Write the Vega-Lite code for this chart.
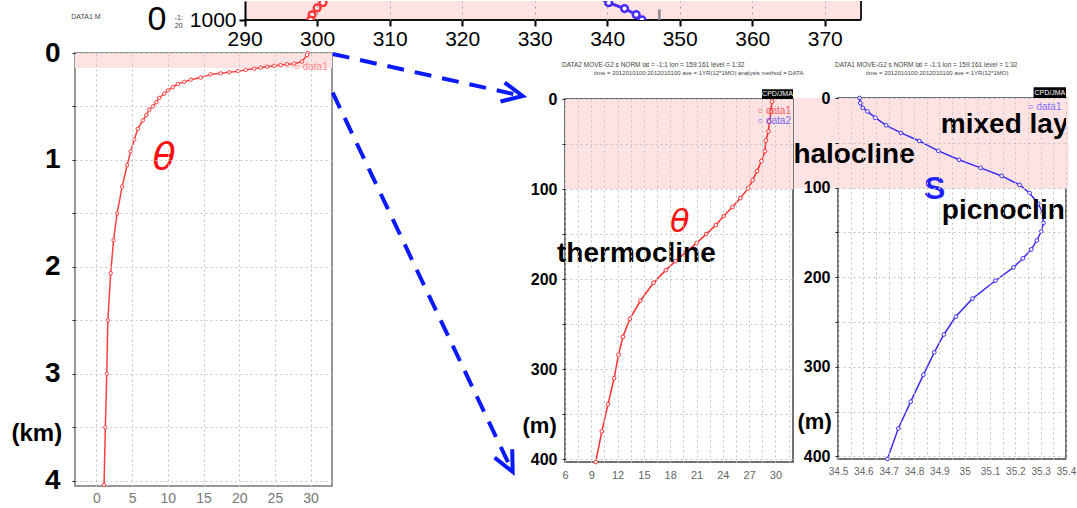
{
  "$schema": "https://vega.github.io/schema/vega-lite/v6.json",
  "padding": {"left": 10, "top": 0, "right": 0, "bottom": 0},
  "background": "white",
  "config": {"view": {"stroke": "#555"}},
  "datasets": {
    "strip_red": [
      {"t": 301.8, "p": 968}, {"t": 300.8, "p": 977.2}, {"t": 300.0, "p": 984.1}, {"t": 299.3, "p": 993.2}, {"t": 299.1, "p": 1000}
    ],
    "strip_blue": [
      {"t": 338.3, "p": 968}, {"t": 340.2, "p": 977.2}, {"t": 342.4, "p": 984.9}, {"t": 344.0, "p": 993}, {"t": 344.8, "p": 999.7}
    ],
    "theta_km": [
      {"T": 29.6, "d": 0.0}, {"T": 29.5, "d": 0.02}, {"T": 28.8, "d": 0.08}, {"T": 27.7, "d": 0.1}, {"T": 26.7, "d": 0.105},
      {"T": 25.8, "d": 0.112}, {"T": 24.9, "d": 0.12}, {"T": 23.9, "d": 0.128}, {"T": 23.0, "d": 0.137}, {"T": 22.1, "d": 0.146},
      {"T": 20.9, "d": 0.158}, {"T": 19.8, "d": 0.17}, {"T": 18.6, "d": 0.18}, {"T": 17.4, "d": 0.19}, {"T": 16.0, "d": 0.2},
      {"T": 14.6, "d": 0.23}, {"T": 13.2, "d": 0.25}, {"T": 12.3, "d": 0.27}, {"T": 11.4, "d": 0.29}, {"T": 10.7, "d": 0.32},
      {"T": 10.0, "d": 0.35}, {"T": 9.5, "d": 0.38}, {"T": 8.8, "d": 0.42}, {"T": 8.4, "d": 0.46}, {"T": 7.9, "d": 0.5},
      {"T": 7.4, "d": 0.53}, {"T": 7.0, "d": 0.58}, {"T": 6.5, "d": 0.63}, {"T": 5.8, "d": 0.71}, {"T": 5.3, "d": 0.81},
      {"T": 4.8, "d": 0.92}, {"T": 4.3, "d": 1.05}, {"T": 3.6, "d": 1.25}, {"T": 2.9, "d": 1.5}, {"T": 2.4, "d": 1.75},
      {"T": 2.0, "d": 2.06}, {"T": 1.6, "d": 2.5}, {"T": 1.45, "d": 3.0}, {"T": 1.25, "d": 3.5}, {"T": 1.07, "d": 4.04}
    ],
    "theta_m": [
      {"T": 29.6, "d": 0}, {"T": 29.6, "d": 3}, {"T": 29.5, "d": 14}, {"T": 29.3, "d": 25}, {"T": 29.2, "d": 36},
      {"T": 28.9, "d": 46}, {"T": 28.8, "d": 58}, {"T": 28.4, "d": 69}, {"T": 27.9, "d": 80}, {"T": 27.4, "d": 90},
      {"T": 26.9, "d": 99}, {"T": 26.0, "d": 110}, {"T": 25.1, "d": 120}, {"T": 24.1, "d": 130}, {"T": 23.2, "d": 140},
      {"T": 22.1, "d": 150}, {"T": 21.0, "d": 160}, {"T": 19.8, "d": 170}, {"T": 18.6, "d": 180}, {"T": 17.5, "d": 190},
      {"T": 16.1, "d": 204}, {"T": 14.6, "d": 224}, {"T": 13.4, "d": 244}, {"T": 12.6, "d": 264}, {"T": 12.1, "d": 284},
      {"T": 11.6, "d": 310}, {"T": 10.9, "d": 339}, {"T": 10.2, "d": 369}, {"T": 9.5, "d": 403}
    ],
    "sal_m": [
      {"S": 34.585, "d": 0}, {"S": 34.588, "d": 5.6}, {"S": 34.598, "d": 11}, {"S": 34.616, "d": 15}, {"S": 34.647, "d": 22},
      {"S": 34.69, "d": 30.5}, {"S": 34.749, "d": 39}, {"S": 34.821, "d": 48}, {"S": 34.896, "d": 59}, {"S": 34.978, "d": 69},
      {"S": 35.063, "d": 78}, {"S": 35.146, "d": 87}, {"S": 35.217, "d": 97}, {"S": 35.256, "d": 106}, {"S": 35.29, "d": 118},
      {"S": 35.308, "d": 128}, {"S": 35.311, "d": 139.5}, {"S": 35.302, "d": 149}, {"S": 35.285, "d": 159}, {"S": 35.263, "d": 169},
      {"S": 35.23, "d": 179}, {"S": 35.193, "d": 189}, {"S": 35.121, "d": 204}, {"S": 35.031, "d": 224}, {"S": 34.965, "d": 244},
      {"S": 34.918, "d": 264}, {"S": 34.88, "d": 284}, {"S": 34.837, "d": 309}, {"S": 34.787, "d": 339}, {"S": 34.738, "d": 369},
      {"S": 34.695, "d": 403}
    ]
  },
  "spacing": -11,
  "vconcat": [
    {
      "width": 786,
      "height": 19,
      "view": {"stroke": null},
      "layer": [
        {
          "data": {"values": [{}]},
          "mark": {"type": "rect", "color": "#ffe3e3"},
          "encoding": {
            "x": {"datum": 290, "type": "quantitative",
              "scale": {"domain": [266.61, 375], "nice": false, "zero": false},
              "axis": {"values": [290, 300, 310, 320, 330, 340, 350, 360, 370], "tickCount": 40, "title": null,
                "labelFont": "Liberation Sans, Arial, sans-serif",
                "labelFontSize": 21, "labelColor": "#000", "labelPadding": 2, "tickSize": 6, "tickWidth": 2,
                "tickColor": "#000", "domain": false, "grid": true, "gridDash": [2, 4],
                "gridColor": "#999", "labelFlush": false, "labelOverlap": false, "zindex": 1}},
            "x2": {"datum": 375},
            "y": {"datum": 975, "type": "quantitative",
              "scale": {"domain": [975, 1000], "reverse": true, "nice": false, "zero": false},
              "axis": {"values": [1000], "format": "d", "title": null, "offset": -170,
                "labelFont": "Liberation Sans, Arial, sans-serif",
                "labelFontSize": 21, "labelColor": "#000", "labelPadding": 3, "tickSize": 6, "tickWidth": 2,
                "tickColor": "#000", "domainColor": "#000", "domainWidth": 2, "grid": false, "zindex": 1}},
            "y2": {"datum": 1000}
          }
        },
        {"data": {"values": [{}]}, "mark": {"type": "rule", "color": "#111", "strokeWidth": 2},
          "encoding": {"x": {"datum": 290}, "x2": {"datum": 375}, "y": {"datum": 1000}}},
        {"data": {"values": [{}]}, "mark": {"type": "rule", "color": "#222", "strokeWidth": 2},
          "encoding": {"x": {"datum": 375}, "y": {"datum": 975}, "y2": {"datum": 1000}}},
        {"data": {"values": [{}]}, "mark": {"type": "rule", "color": "#888", "strokeWidth": 2.5},
          "encoding": {"x": {"datum": 347.2}, "y": {"datum": 986}, "y2": {"datum": 1000}}},
        {"data": {"name": "strip_red"},
          "mark": {"type": "line", "color": "#ff3b3b", "strokeWidth": 3, "clip": true},
          "encoding": {"x": {"field": "t", "type": "quantitative"}, "y": {"field": "p", "type": "quantitative"}, "order": {"field": "p"}}},
        {"data": {"name": "strip_red"},
          "mark": {"type": "point", "color": "#ff3b3b", "filled": false, "fill": "white", "size": 45, "strokeWidth": 2.5, "opacity": 1, "clip": true},
          "encoding": {"x": {"field": "t", "type": "quantitative"}, "y": {"field": "p", "type": "quantitative"}}},
        {"data": {"name": "strip_blue"},
          "mark": {"type": "line", "color": "#4a2cff", "strokeWidth": 3, "clip": true},
          "encoding": {"x": {"field": "t", "type": "quantitative"}, "y": {"field": "p", "type": "quantitative"}, "order": {"field": "p"}}},
        {"data": {"name": "strip_blue"},
          "mark": {"type": "point", "color": "#4a2cff", "filled": false, "fill": "white", "size": 45, "strokeWidth": 2.5, "opacity": 1, "clip": true},
          "encoding": {"x": {"field": "t", "type": "quantitative"}, "y": {"field": "p", "type": "quantitative"}}},
        {"data": {"values": [{}]},
          "mark": {"type": "text", "text": "DATA1   M", "fontSize": 7, "color": "#444", "align": "left", "baseline": "middle",
            "font": "Liberation Sans, Arial, sans-serif"},
          "encoding": {"x": {"datum": 266.1}, "y": {"datum": 995.4}}},
        {"data": {"values": [{}]},
          "mark": {"type": "text", "text": "0", "fontSize": 34, "color": "#000", "align": "center", "baseline": "middle",
            "font": "Liberation Sans, Arial, sans-serif"},
          "encoding": {"x": {"datum": 277.9}, "y": {"datum": 1000}}},
        {"data": {"values": [{}]},
          "mark": {"type": "text", "text": ["-1:", "20"], "fontSize": 7, "lineHeight": 8, "color": "#333", "align": "center", "baseline": "middle",
            "font": "Liberation Sans, Arial, sans-serif"},
          "encoding": {"x": {"datum": 280.9}, "y": {"datum": 997}}}
      ]
    },
    {
      "spacing": -11,
      "hconcat": [
        {
          "width": 257,
          "height": 433,
          "view": {"stroke": "#777", "strokeWidth": 1.5},
          "layer": [
            {
              "data": {"values": [{}]},
              "mark": {"type": "rect", "color": "#ffe3e3"},
              "encoding": {
                "x": {"datum": -3, "type": "quantitative",
                  "scale": {"domain": [-3, 33], "nice": false, "zero": false},
                  "axis": {"values": [0, 5, 10, 15, 20, 25, 30], "tickCount": 40, "title": null,
                    "labelFont": "Liberation Sans, Arial, sans-serif",
                    "labelFontSize": 14, "labelColor": "#777", "labelPadding": 5, "ticks": false, "domain": false,
                    "grid": true, "gridDash": [2, 3], "gridColor": "#c4c4c4", "labelFlush": false, "labelOverlap": false, "zindex": 1}},
                "x2": {"datum": 33},
                "y": {"datum": 0, "type": "quantitative",
                  "scale": {"domain": [0, 4.05], "reverse": true, "nice": false, "zero": false},
                  "axis": {"values": [0, 0.5, 1, 1.5, 2, 2.5, 3, 3.5, 4], "tickCount": 40,
                    "labelExpr": "datum.value % 1 === 0 ? format(datum.value, 'd') : ''",
                    "labelFont": "Liberation Sans, Arial, sans-serif", "labelFontSize": 28, "labelFontWeight": "bold",
                    "labelColor": "#000", "labelPadding": 12, "tickSize": 3, "tickColor": "#222", "domain": false,
                    "grid": true, "gridDash": [2, 3], "gridColor": "#c4c4c4", "labelOverlap": false, "zindex": 1,
                    "title": "(km)", "titleFont": "Liberation Sans, Arial, sans-serif", "titleFontSize": 24,
                    "titleFontWeight": "bold", "titleColor": "#000", "titleAngle": 0, "titleAlign": "left",
                    "titleBaseline": "middle", "titleX": -64, "titleY": 380}},
                "y2": {"datum": 0.14}
              }
            },
            {"data": {"name": "theta_km"},
              "mark": {"type": "line", "color": "#ff4040", "strokeWidth": 1.5,
                "point": {"filled": false, "fill": "white", "size": 12, "strokeWidth": 1, "color": "#ff4040"}},
              "encoding": {"x": {"field": "T", "type": "quantitative"}, "y": {"field": "d", "type": "quantitative"}, "order": {"field": "d"}}},
            {"data": {"values": [{}]},
              "mark": {"type": "text", "text": "θ", "fontSize": 38, "fontStyle": "italic", "color": "#ff1010", "align": "center", "baseline": "middle",
                "font": "DejaVu Sans, sans-serif"},
              "encoding": {"x": {"datum": 9.5}, "y": {"datum": 0.98}}},
            {"data": {"values": [{}]},
              "mark": {"type": "text", "text": "○ data1", "fontSize": 10, "color": "#ff8a8a", "align": "right", "baseline": "middle",
                "font": "Liberation Sans, Arial, sans-serif"},
              "encoding": {"x": {"datum": 32.4}, "y": {"datum": 0.128}}},
            {"data": {"values": [{}]},
              "mark": {"type": "rule", "color": "#0a1aff", "strokeWidth": 4, "strokeDash": [17, 11]},
              "encoding": {"x": {"datum": 33.1}, "y": {"datum": 0.009}, "x2": {"datum": 59.4}, "y2": {"datum": 0.398}}},
            {"data": {"values": [{}]},
              "mark": {"type": "point", "shape": "M-1,-0.45L0,0L-1,0.5", "filled": false, "stroke": "#0a1aff", "strokeWidth": 4,
                "size": 1681, "angle": 12.5, "opacity": 1},
              "encoding": {"x": {"datum": 59.71}, "y": {"datum": 0.402}}},
            {"data": {"values": [{}]},
              "mark": {"type": "rule", "color": "#0a1aff", "strokeWidth": 4, "strokeDash": [17, 11]},
              "encoding": {"x": {"datum": 33.1}, "y": {"datum": 0.371}, "x2": {"datum": 58.1}, "y2": {"datum": 3.89}}},
            {"data": {"values": [{}]},
              "mark": {"type": "point", "shape": "M-1,-0.45L0,0L-1,0.5", "filled": false, "stroke": "#0a1aff", "strokeWidth": 4,
                "size": 1681, "angle": 64.6, "opacity": 1},
              "encoding": {"x": {"datum": 58.31}, "y": {"datum": 3.917}}}
          ]
        },
        {
          "spacing": -16,
          "hconcat": [
            {
              "spacing": 1,
              "vconcat": [
                {
                  "width": 228,
                  "height": 1,
                  "view": {"stroke": null},
                  "title": {"text": "DATA2  MOVE-G2  s  NORM  lat = -1:1  lon = 159:161  level = 1:32", "orient": "bottom",
                    "anchor": "start", "frame": "group", "offset": 7.5, "fontSize": 6.5, "fontWeight": "normal",
                    "font": "Liberation Sans, Arial, sans-serif", "color": "#444", "dx": -3},
                  "data": {"values": [{}]},
                  "mark": {"type": "rule", "opacity": 0},
                  "encoding": {}
                },
                {
                  "width": 228,
                  "height": 363,
                  "title": {"text": "time = 2012010100:2012010100  ave = 1YR(12*1MO)  analysis method = DATA",
                    "anchor": "start", "frame": "group", "offset": 13, "fontSize": 6, "fontWeight": "normal",
                    "font": "Liberation Sans, Arial, sans-serif", "color": "#444", "dx": 29},
                  "view": {"stroke": "#444", "strokeWidth": 1.5},
                  "layer": [
                    {
                      "data": {"values": [{}]},
                      "mark": {"type": "rect", "color": "#ffe3e3"},
                      "encoding": {
                        "x": {"datum": 6, "type": "quantitative",
                          "scale": {"domain": [6, 32], "nice": false, "zero": false},
                          "axis": {"values": [6, 7.5, 9, 10.5, 12, 13.5, 15, 16.5, 18, 19.5, 21, 22.5, 24, 25.5, 27, 28.5, 30, 31.5],
                            "tickCount": 60,
                            "labelExpr": "datum.value % 3 === 0 ? format(datum.value, 'd') : ''", "title": null,
                            "labelFont": "Liberation Sans, Arial, sans-serif",
                            "labelFontSize": 11, "labelColor": "#666", "labelPadding": 7, "ticks": false, "domain": false,
                            "grid": true, "gridDash": [2, 3], "gridColor": "#c4c4c4", "labelFlush": false, "labelOverlap": false, "zindex": 1}},
                        "x2": {"datum": 32},
                        "y": {"datum": 0, "type": "quantitative",
                          "scale": {"domain": [0, 403], "reverse": true, "nice": false, "zero": false},
                          "axis": {"values": [0, 50, 100, 150, 200, 250, 300, 350, 400], "tickCount": 40,
                            "labelExpr": "datum.value % 100 === 0 ? datum.label : ''",
                            "labelFont": "Liberation Sans, Arial, sans-serif",
                            "labelFontSize": 16, "labelFontWeight": "bold", "labelColor": "#000", "labelPadding": 5,
                            "tickSize": 3, "tickColor": "#222", "domain": false, "grid": true, "gridDash": [2, 3],
                            "gridColor": "#c4c4c4", "labelOverlap": false, "zindex": 1,
                            "title": "(m)", "titleFont": "Liberation Sans, Arial, sans-serif", "titleFontSize": 22,
                            "titleFontWeight": "bold", "titleColor": "#000", "titleAngle": 0, "titleAlign": "left",
                            "titleBaseline": "middle", "titleX": -43, "titleY": 326}},
                        "y2": {"datum": 100}
                      }
                    },
                    {"data": {"name": "theta_m"},
                      "mark": {"type": "line", "color": "#ff3030", "strokeWidth": 1.5,
                        "point": {"filled": false, "fill": "white", "size": 14, "strokeWidth": 1, "color": "#ff3030"}},
                      "encoding": {"x": {"field": "T", "type": "quantitative"}, "y": {"field": "d", "type": "quantitative"}, "order": {"field": "d"}}},
                    {"data": {"values": [{}]},
                      "mark": {"type": "text", "text": "θ", "fontSize": 32, "fontStyle": "italic", "color": "#ff1010", "align": "center", "baseline": "middle",
                        "font": "DejaVu Sans, sans-serif"},
                      "encoding": {"x": {"datum": 19.1}, "y": {"datum": 136}}},
                    {"data": {"values": [{}]},
                      "mark": {"type": "text", "text": "thermocline", "fontSize": 28, "fontWeight": "bold", "color": "#000", "align": "left", "baseline": "middle",
                        "font": "Liberation Sans, Arial, sans-serif"},
                      "encoding": {"x": {"datum": 5.09}, "y": {"datum": 172.6}}},
                    {"data": {"values": [{}]},
                      "mark": {"type": "text", "text": "○ data1", "fontSize": 10, "color": "#ff5a5a", "align": "right", "baseline": "middle",
                        "font": "Liberation Sans, Arial, sans-serif"},
                      "encoding": {"x": {"datum": 31.77}, "y": {"datum": 13.7}}},
                    {"data": {"values": [{}]},
                      "mark": {"type": "text", "text": "○ data2", "fontSize": 10, "color": "#6a5cff", "align": "right", "baseline": "middle",
                        "font": "Liberation Sans, Arial, sans-serif"},
                      "encoding": {"x": {"datum": 31.77}, "y": {"datum": 24.8}}},
                    {"data": {"values": [{}]},
                      "mark": {"type": "rect", "color": "#000"},
                      "encoding": {"x": {"datum": 28.46}, "x2": {"datum": 32}, "y": {"datum": -10.8}, "y2": {"datum": 0}}},
                    {"data": {"values": [{}]},
                      "mark": {"type": "text", "text": "CPD/JMA", "fontSize": 7, "color": "#fff", "align": "center", "baseline": "middle",
                        "font": "Liberation Sans, Arial, sans-serif"},
                      "encoding": {"x": {"datum": 30.23}, "y": {"datum": -5.4}}}
                  ]
                }
              ]
            },
            {
              "spacing": 1,
              "vconcat": [
                {
                  "width": 228,
                  "height": 1,
                  "view": {"stroke": null},
                  "title": {"text": "DATA1  MOVE-G2  s  NORM  lat = -1:1  lon = 159:161  level = 1:32", "orient": "bottom",
                    "anchor": "start", "frame": "group", "offset": 7.5, "fontSize": 6.5, "fontWeight": "normal",
                    "font": "Liberation Sans, Arial, sans-serif", "color": "#444", "dx": -3},
                  "data": {"values": [{}]},
                  "mark": {"type": "rule", "opacity": 0},
                  "encoding": {}
                },
                {
                  "width": 228,
                  "height": 361,
                  "title": {"text": "time = 2012010100:2012010100  ave = 1YR(12*1MO)",
                    "anchor": "start", "frame": "group", "offset": 11, "fontSize": 6, "fontWeight": "normal",
                    "font": "Liberation Sans, Arial, sans-serif", "color": "#444", "dx": 28},
                  "view": {"stroke": "#444", "strokeWidth": 1.5},
                  "layer": [
                    {
                      "data": {"values": [{}]},
                      "mark": {"type": "rect", "color": "#ffe3e3"},
                      "encoding": {
                        "x": {"datum": 34.328, "type": "quantitative",
                          "scale": {"domain": [34.5, 35.4], "nice": false, "zero": false},
                          "axis": {"values": [34.5, 34.55, 34.6, 34.65, 34.7, 34.75, 34.8, 34.85, 34.9, 34.95, 35, 35.05, 35.1, 35.15, 35.2, 35.25, 35.3, 35.35, 35.4],
                            "tickCount": 60,
                            "labelExpr": "abs(datum.value * 10 - round(datum.value * 10)) < 0.001 ? format(datum.value, '~g') : ''",
                            "title": null,
                            "labelFont": "Liberation Sans, Arial, sans-serif",
                            "labelFontSize": 10, "labelColor": "#666", "labelPadding": 7, "ticks": false, "domain": false,
                            "grid": true, "gridDash": [2, 3], "gridColor": "#c4c4c4", "labelFlush": false, "labelOverlap": false, "zindex": 1}},
                        "x2": {"datum": 35.41},
                        "y": {"datum": 0, "type": "quantitative",
                          "scale": {"domain": [0, 403], "reverse": true, "nice": false, "zero": false},
                          "axis": {"values": [0, 50, 100, 150, 200, 250, 300, 350, 400], "tickCount": 40,
                            "labelExpr": "datum.value % 100 === 0 ? datum.label : ''",
                            "labelFont": "Liberation Sans, Arial, sans-serif",
                            "labelFontSize": 16, "labelFontWeight": "bold", "labelColor": "#000", "labelPadding": 5,
                            "tickSize": 3, "tickColor": "#222", "domain": false, "grid": true, "gridDash": [2, 3],
                            "gridColor": "#c4c4c4", "labelOverlap": false, "zindex": 1,
                            "title": "(m)", "titleFont": "Liberation Sans, Arial, sans-serif", "titleFontSize": 22,
                            "titleFontWeight": "bold", "titleColor": "#000", "titleAngle": 0, "titleAlign": "left",
                            "titleBaseline": "middle", "titleX": -41, "titleY": 323}},
                        "y2": {"datum": 101}
                      }
                    },
                    {"data": {"name": "sal_m"},
                      "mark": {"type": "line", "color": "#3d2bf2", "strokeWidth": 1.5,
                        "point": {"filled": false, "fill": "white", "size": 14, "strokeWidth": 1, "color": "#3d2bf2"}},
                      "encoding": {"x": {"field": "S", "type": "quantitative"}, "y": {"field": "d", "type": "quantitative"}, "order": {"field": "d"}}},
                    {"data": {"values": [{}]},
                      "mark": {"type": "text", "text": "S", "fontSize": 32, "fontWeight": "bold", "color": "#1f1fff", "align": "center", "baseline": "middle",
                        "font": "Liberation Sans, Arial, sans-serif"},
                      "encoding": {"x": {"datum": 34.882}, "y": {"datum": 101.9}}},
                    {"data": {"values": [{}]},
                      "mark": {"type": "text", "text": "halocline", "fontSize": 28, "fontWeight": "bold", "color": "#000", "align": "left", "baseline": "middle",
                        "font": "Liberation Sans, Arial, sans-serif"},
                      "encoding": {"x": {"datum": 34.324}, "y": {"datum": 64}}},
                    {"data": {"values": [{}]},
                      "mark": {"type": "text", "text": "mixed layer", "fontSize": 28, "fontWeight": "bold", "color": "#000", "align": "left", "baseline": "middle",
                        "font": "Liberation Sans, Arial, sans-serif", "clip": true},
                      "encoding": {"x": {"datum": 34.906}, "y": {"datum": 30.5}}},
                    {"data": {"values": [{}]},
                      "mark": {"type": "text", "text": "picnocline", "fontSize": 28, "fontWeight": "bold", "color": "#000", "align": "left", "baseline": "middle",
                        "font": "Liberation Sans, Arial, sans-serif", "clip": true},
                      "encoding": {"x": {"datum": 34.91}, "y": {"datum": 126.5}}},
                    {"data": {"values": [{}]},
                      "mark": {"type": "text", "text": "○ data1", "fontSize": 10, "color": "#7a6cff", "align": "right", "baseline": "middle",
                        "font": "Liberation Sans, Arial, sans-serif"},
                      "encoding": {"x": {"datum": 35.382}, "y": {"datum": 10.4}}},
                    {"data": {"values": [{}]},
                      "mark": {"type": "rect", "color": "#000"},
                      "encoding": {"x": {"datum": 35.272}, "x2": {"datum": 35.4}, "y": {"datum": -11.9}, "y2": {"datum": 0}}},
                    {"data": {"values": [{}]},
                      "mark": {"type": "text", "text": "CPD/JMA", "fontSize": 7, "color": "#fff", "align": "center", "baseline": "middle",
                        "font": "Liberation Sans, Arial, sans-serif"},
                      "encoding": {"x": {"datum": 35.336}, "y": {"datum": -6}}}
                  ]
                }
              ]
            }
          ]
        }
      ]
    }
  ]
}
